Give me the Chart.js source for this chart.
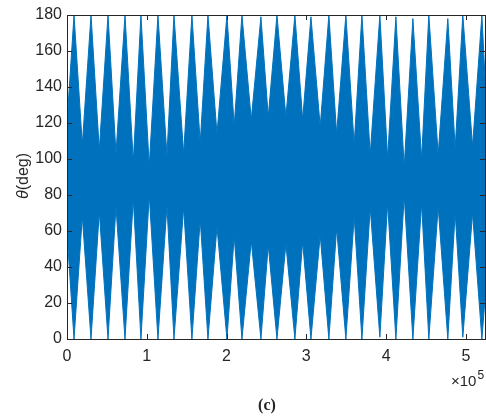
<!DOCTYPE html>
<html>
<head>
<meta charset="utf-8">
<script src="https://cdn.jsdelivr.net/npm/chart.js@4.4.0/dist/chart.umd.min.js"></script>
<style>
  body { margin: 0; background: #fff; }
  canvas { display: block; }
</style>
</head>
<body>
<canvas id="theta-chart" width="486" height="419"></canvas>
<script>
// envelope of theta(t): full swings at the spikes, narrower band at the valleys
const spikeX = [8800, 30100, 51400, 72700, 92700, 114000, 134100, 156600, 176700, 200500,
  219300, 243100, 263200, 285700, 305800, 328300, 349600, 369700, 392200, 412300,
  433600, 453600, 477400, 496200, 520100];
const spikeTop = [180, 180, 180, 180, 180, 180, 180, 180, 180, 180,
  180, 179, 180, 180, 179, 180, 180, 180, 180, 179,
  178, 180, 178, 180, 180];
const spikeBottom = [0, 0, 0, 0, 0, 0, 0, 0, 0, 0,
  0, 0, 0, 0, 0, 0, 0, 0, 1, 0,
  0, 0, 0, 1, 0];
const valleyX = [19200, 40500, 61400, 83100, 103100, 125300, 146200, 167000, 188000, 209600,
  231000, 252300, 274400, 295400, 317400, 338000, 360000, 380100, 401900, 422700,
  444500, 465300, 486600, 508400];
const valleyTop = [108, 105, 103, 98.5, 96, 102, 103, 109, 114, 118.5,
  122, 123.5, 123.5, 122, 118, 114, 108, 102.5, 100.5, 95.7,
  100, 102.5, 106, 107];
const valleyBottom = [68, 70.7, 73.5, 77.8, 80, 74, 73, 66.5, 62.4, 57.2,
  54.4, 52.2, 52.8, 54, 57.8, 61.5, 68, 73, 75.4, 79.6,
  75.4, 73.5, 70.2, 69.8];
const edgeX = [0, 524000];
const edgeTop = [120, 145];
const edgeBottom = [59, 22];
const xTicks = [0, 1, 2, 3, 4, 5];
const yTicks = [0, 20, 40, 60, 80, 100, 120, 140, 160, 180];

const upper = [{ x: edgeX[0], y: edgeTop[0] }];
const lower = [{ x: edgeX[0], y: edgeBottom[0] }];
spikeX.forEach((x, i) => {
  upper.push({ x, y: spikeTop[i] });
  lower.push({ x, y: spikeBottom[i] });
  if (i < valleyX.length) {
    upper.push({ x: valleyX[i], y: valleyTop[i] });
    lower.push({ x: valleyX[i], y: valleyBottom[i] });
  }
});
upper.push({ x: edgeX[1], y: edgeTop[1] });
lower.push({ x: edgeX[1], y: edgeBottom[1] });

const ink = '#262626';
const blue = '#0072BD';
const sans = '"Liberation Sans", Arial, sans-serif';

// matlab style box with inward ticks, plus the extra labels
const axesBox = {
  id: 'axesBox',
  afterDraw(chart) {
    const { ctx, chartArea: a, scales } = chart;
    const x = scales.x, y = scales.y;
    ctx.save();
    ctx.strokeStyle = ink;
    ctx.lineWidth = 1;
    ctx.beginPath();
    x.ticks.forEach(t => {
      const px = Math.round(x.getPixelForValue(t.value)) + 0.5;
      ctx.moveTo(px, a.bottom); ctx.lineTo(px, a.bottom - 5);
      ctx.moveTo(px, a.top); ctx.lineTo(px, a.top + 5);
    });
    y.ticks.forEach(t => {
      const py = Math.round(y.getPixelForValue(t.value)) + 0.5;
      ctx.moveTo(a.left, py); ctx.lineTo(a.left + 5, py);
      ctx.moveTo(a.right, py); ctx.lineTo(a.right - 5, py);
    });
    ctx.stroke();
    ctx.strokeRect(a.left + 0.5, a.top + 0.5, a.right - a.left, a.bottom - a.top);

    ctx.fillStyle = ink;
    ctx.textBaseline = 'middle';
    // x exponent
    ctx.textAlign = 'left';
    ctx.font = '15px ' + sans;
    ctx.fillText('\u00d710', 451, 382);
    const w = ctx.measureText('\u00d710').width;
    ctx.font = '12px ' + sans;
    ctx.fillText('5', 451 + w + 1, 376);

    // y title
    ctx.save();
    ctx.translate(24, 176);
    ctx.rotate(-Math.PI / 2);
    ctx.font = 'italic 16px ' + sans;
    const tw = ctx.measureText('\u03b8').width;
    ctx.font = '16px ' + sans;
    const rw = ctx.measureText('(deg)').width;
    let sx = -(tw + rw) / 2;
    ctx.font = 'italic 16px ' + sans;
    ctx.fillText('\u03b8', sx, 0);
    ctx.font = '16px ' + sans;
    ctx.fillText('(deg)', sx + tw, 0);
    ctx.restore();

    // panel tag
    ctx.textAlign = 'center';
    ctx.font = 'bold 16px "Liberation Serif", "Times New Roman", serif';
    ctx.fillText('(c)', 267, 406);
    ctx.restore();
  }
};

new Chart(document.getElementById('theta-chart'), {
  type: 'line',
  data: {
    datasets: [
      { data: upper, borderColor: blue, backgroundColor: blue, borderWidth: 1, pointRadius: 0, fill: '+1' },
      { data: lower, borderColor: blue, backgroundColor: blue, borderWidth: 1, pointRadius: 0, fill: false }
    ]
  },
  options: {
    responsive: false,
    animation: false,
    layout: { padding: { top: 15, right: 1, left: 0, bottom: 0 } },
    plugins: { legend: { display: false }, tooltip: { enabled: false } },
    scales: {
      x: {
        type: 'linear',
        min: 0,
        max: 524000,
        grid: { display: false, drawTicks: false },
        border: { display: false },
        afterBuildTicks: s => { s.ticks = xTicks.map(v => ({ value: v * 100000 })); },
        afterFit: s => { s.height = 80; },
        ticks: {
          padding: 8,
          color: ink,
          font: { size: 16, family: sans },
          maxRotation: 0,
          callback: v => v / 100000
        }
      },
      y: {
        min: 0,
        max: 180,
        grid: { display: false, drawTicks: false },
        border: { display: false },
        afterBuildTicks: s => { s.ticks = yTicks.map(v => ({ value: v })); },
        afterFit: s => { s.width = 67; },
        ticks: {
          padding: 5,
          color: ink,
          font: { size: 16, family: sans }
        }
      }
    }
  },
  plugins: [axesBox]
});
</script>
</body>
</html>
